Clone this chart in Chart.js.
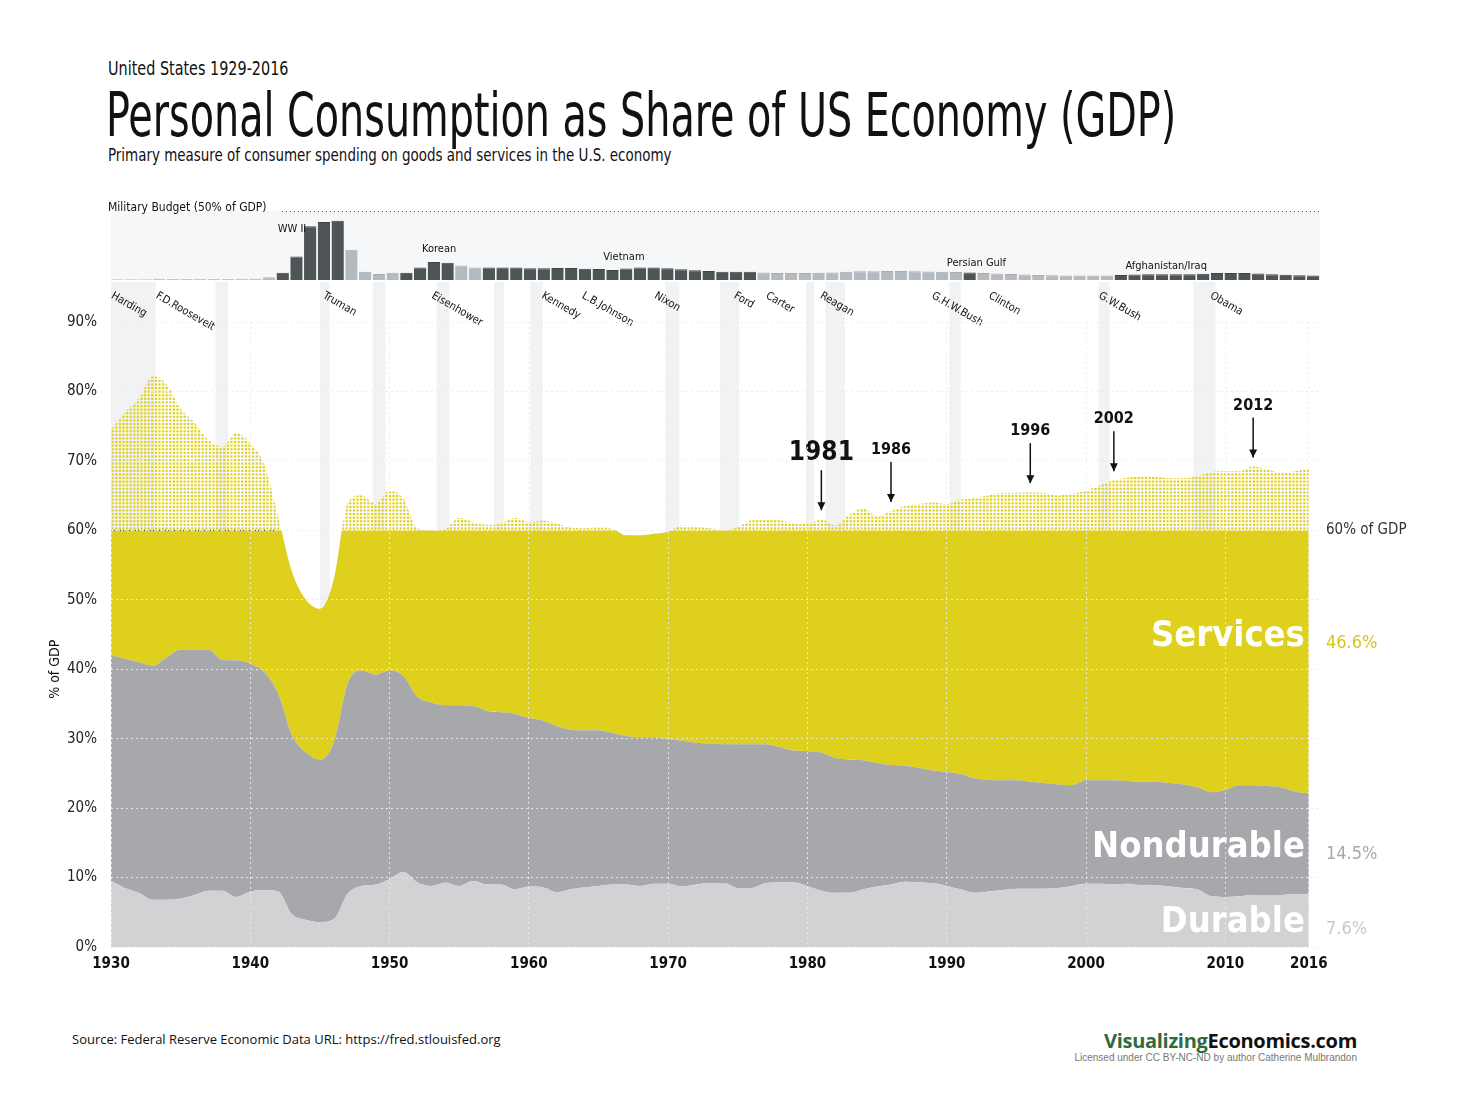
<!DOCTYPE html>
<html><head><meta charset="utf-8">
<script src="https://cdn.jsdelivr.net/npm/chart.js@4"></script>
<style>
body{margin:0;background:#fff;width:1470px;height:1099px;position:relative;overflow:hidden;font-family:'DejaVu Sans Condensed','Open Sans',sans-serif;}
.t{position:absolute;white-space:nowrap;color:#111;transform-origin:0 0;}
canvas{position:absolute;left:0;top:0;}
</style></head><body>
<div class="t" style="left:108px;top:56px;font-size:20px;transform:scaleX(0.8);">United States 1929-2016</div>
<div class="t" style="left:106px;top:80px;font-size:60px;transform:scaleX(0.735);">Personal Consumption as Share of US Economy (GDP)</div>
<div class="t" style="left:108px;top:144px;font-size:18px;transform:scaleX(0.83);">Primary measure of consumer spending on goods and services in the U.S. economy</div>
<div class="t" style="left:72px;top:1030px;font-size:13px;font-family:'Open Sans';">Source: Federal Reserve Economic Data URL: https://fred.stlouisfed.org</div>
<div class="t" style="right:113px;top:1027px;font-size:20px;font-weight:bold;font-family:'Open Sans';letter-spacing:-0.3px;"><span style="color:#2f6b3c">Visualizing</span>Economics.com</div>
<div class="t" style="right:113px;top:1052px;font-size:10px;color:#777;font-family:'Liberation Sans';">Licensed under CC BY-NC-ND by author Catherine Mulbrandon</div>
<canvas id="main" width="1470" height="1099"></canvas>
<canvas id="mil" width="1470" height="1099"></canvas>
<script>
const years = [];
for (let y = 1930; y <= 2016; y++) years.push(y);
const milYears = [];
for (let y = 1929; y <= 2016; y++) milYears.push(y);

const durable = [9.5,8.5,7.8,6.8,6.8,7,7.5,8.1,8.1,7.2,8,8.2,8,4.7,3.9,3.6,4,7.7,8.8,9,9.8,10.8,9.3,8.8,9.3,8.8,9.5,9,9,8.3,8.7,8.6,7.9,8.3,8.6,8.8,9,9,8.8,9.1,9.1,8.7,9,9.2,9.2,8.5,8.5,9.2,9.3,9.3,8.8,8.1,7.8,7.8,8.3,8.7,9,9.4,9.3,9.2,8.8,8.3,7.8,8,8.2,8.4,8.4,8.4,8.5,8.8,9.1,9.1,9,9.1,8.9,8.9,8.7,8.5,8.3,7.3,7.2,7.3,7.5,7.5,7.5,7.6,7.6];
const goodsTop = [42,41.5,41,40.5,41.7,42.8,42.8,42.8,41.3,41.3,40.8,39.6,36.5,30.5,28,27,29.5,38,39.8,39.2,39.8,39,36,35.2,34.8,34.8,34.7,34,33.8,33.6,33,32.6,31.8,31.3,31.2,31.2,30.8,30.4,30.2,30.2,29.9,29.7,29.4,29.3,29.2,29.2,29.2,29.2,28.8,28.3,28.2,28,27.2,27,26.9,26.5,26.2,26.1,25.8,25.4,25.2,24.9,24.3,24.1,24,24,23.8,23.6,23.4,23.3,24,24,24,23.9,23.8,23.8,23.6,23.4,23,22.3,22.6,23.3,23.3,23.2,23,22.4,22.1];
const totalTop = [74.5,77,79,82.2,81,77.5,75.5,73,72,74,72.5,69.5,62,54,50,48.7,53,64,65,63.8,65.8,64.5,60.3,60,60.2,61.8,61.2,60.8,61,61.8,61.2,61.4,61,60.4,60.3,60.4,60.2,59.3,59.3,59.5,59.8,60.7,60.5,60.3,60,60.5,61.5,61.6,61.5,61,60.9,61.6,60.7,62.2,63.2,62,62.8,63.5,63.8,64,63.8,64.4,64.7,65,65.4,65.4,65.5,65.4,65,65.3,65.7,66.5,67.2,67.6,67.8,67.7,67.5,67.5,67.8,68.4,68.5,68.5,69.2,68.8,68.3,68.5,68.8];
const military = [0.6,0.6,0.6,0.7,0.7,0.7,0.7,0.8,0.8,0.8,0.9,2,5.2,17,39,42,43,22,6,4.4,5.2,5.2,9,13,12.5,10.5,9,9,9,9,8.5,8.5,8.7,8.7,8.2,8,7.3,8.3,9,9,8.5,7.8,7,6.5,6,6,6,5.5,5,5,5,5.2,5.5,6,6.3,6.3,6.5,6.5,6.3,6.2,6,5.8,5.5,5,4.8,4.4,4,3.7,3.5,3.3,3.2,3.2,3.2,3.6,4,4.1,4.2,4.2,4.2,4.5,5,5,5,4.7,4.2,3.8,3.5,3.3];
const warYears = [[1941,1945],[1950,1953],[1956,1975],[1991,1991],[2002,2016]];
const warLabels = [['WW II',1941,229],['Korean',1951.5,249],['Vietnam',1964.7,257],['Persian Gulf',1989.7,263],['Afghanistan/Iraq',2002.7,266]];
const presidents = [['Harding',1930],['F.D.Roosevelt',1933.2],['Truman',1945.2],['Eisenhower',1953],['Kennedy',1960.9],['L.B.Johnson',1963.8],['Nixon',1969],['Ford',1974.7],['Carter',1977],['Reagan',1980.9],['G.H.W.Bush',1988.9],['Clinton',1993],['G.W.Bush',2000.9],['Obama',2008.9]];
const recessions = [[1930,1933.2],[1937.5,1938.4],[1945,1945.7],[1948.8,1949.7],[1953.4,1954.3],[1957.5,1958.2],[1960.1,1961],[1969.8,1970.8],[1973.7,1975.1],[1979.9,1980.4],[1981.3,1982.7],[1990.2,1991],[2000.9,2001.7],[2007.7,2009.3]];
const callouts = [['1981',1981,26],['1986',1986,16],['1996',1996,16],['2002',2002,16],['2012',2012,16]];
const yTicks = [0,10,20,30,40,50,60,70,80,90];
const xTicks = [1930,1940,1950,1960,1970,1980,1990,2000,2010,2016];

const YEL = '#dfd01e', NOND = '#a7a8ac', DUR = '#d1d2d4';
const COND = "'DejaVu Sans Condensed','Open Sans',sans-serif";

function servicesFill(ctx){
  const c = ctx.chart;
  if (!c.chartArea || !c.scales.y) return YEL;
  const y60 = c.scales.y.getPixelForValue(60);
  const off = document.createElement('canvas');
  off.width = c.width; off.height = c.height;
  const g = off.getContext('2d');
  g.fillStyle = YEL;
  g.fillRect(0, y60, off.width, off.height - y60);
  for (let y = y60 - 3; y > 0; y -= 3.6) for (let x = 0; x < off.width; x += 3.6) g.fillRect(x, y, 2.2, 2.2);
  return c.ctx.createPattern(off, 'no-repeat');
}

const decor = {
  id:'decor',
  beforeDatasetsDraw(c){
    const {ctx, chartArea:a, scales:{x,y}} = c;
    ctx.save();
    ctx.fillStyle = '#f1f2f4';
    recessions.forEach(([s,e])=>{const x0=x.getPixelForValue(s),x1=x.getPixelForValue(e);ctx.fillRect(x0,282,Math.max(x1-x0,8),a.bottom-282);});
    ctx.restore();
  },
  afterDatasetsDraw(c){
    const {ctx, chartArea:a, scales:{x,y}} = c;
    ctx.save();
    const y60 = y.getPixelForValue(60);
    ctx.strokeStyle='#333';ctx.setLineDash([1,2]);ctx.lineWidth=1;
    ctx.beginPath();ctx.moveTo(x.getPixelForValue(1930),y60);ctx.lineTo(x.getPixelForValue(1942),y60);ctx.stroke();
    ctx.setLineDash([]);
    ctx.fillStyle='#111';ctx.font='11px '+COND;ctx.textAlign='left';ctx.textBaseline='middle';
    presidents.forEach(([n,yr])=>{ctx.save();ctx.translate(x.getPixelForValue(yr)+1,295);ctx.rotate(Math.PI/6);ctx.fillText(n,0,0);ctx.restore();});
    callouts.forEach(([lab,yr,fs])=>{
      const px=x.getPixelForValue(yr), end=y.getPixelForValue(totalTop[years.indexOf(yr)])-9, st=end-40;
      ctx.strokeStyle='#111';ctx.lineWidth=1.5;ctx.beginPath();ctx.moveTo(px,st);ctx.lineTo(px,end);ctx.stroke();
      ctx.fillStyle='#111';ctx.beginPath();ctx.moveTo(px-4,end-8);ctx.lineTo(px+4,end-8);ctx.lineTo(px,end);ctx.closePath();ctx.fill();
      ctx.font='bold '+fs+'px '+COND;ctx.textAlign='center';ctx.textBaseline='bottom';ctx.fillText(lab,px,st-4);
    });
    const r=a.right, rt=x.getPixelForValue(2016)-4;
    const lab=(t,v,yy,col)=>{
      ctx.font='bold 36px '+COND;ctx.textAlign='right';ctx.textBaseline='middle';ctx.fillStyle='#fff';ctx.fillText(t,rt,yy);
      ctx.font='18px '+COND;ctx.textAlign='left';ctx.fillStyle=col;ctx.fillText(v,r+6,yy+6);
    };
    lab('Services','46.6%',637,'#d6c61c');
    lab('Nondurable','14.5%',848,'#a7a8ac');
    lab('Durable','7.6%',923,'#c6c7ca');
    ctx.font='15px '+COND;ctx.fillStyle='#333';ctx.textAlign='left';ctx.textBaseline='middle';ctx.fillText('60% of GDP',r+6,y60);
    ctx.save();ctx.translate(55,y.getPixelForValue(40));ctx.rotate(-Math.PI/2);ctx.textAlign='center';ctx.font='14px '+COND;ctx.fillStyle='#111';ctx.fillText('% of GDP',0,0);ctx.restore();
    ctx.restore();
  },
  afterDraw(c){ c.ctx.clearRect(0,0,c.width,6); }
};

const pts = arr => arr.map((v,i)=>({x:years[i],y:v}));
new Chart(document.getElementById('main'),{
  type:'line',
  data:{datasets:[
    {data:pts(durable),backgroundColor:DUR,fill:'origin',borderWidth:0,pointRadius:0,cubicInterpolationMode:'monotone'},
    {data:pts(goodsTop),backgroundColor:NOND,fill:'-1',borderWidth:0,pointRadius:0,cubicInterpolationMode:'monotone'},
    {data:pts(totalTop),backgroundColor:servicesFill,fill:'-1',borderWidth:0,pointRadius:0,cubicInterpolationMode:'monotone'}
  ]},
  options:{
    responsive:false,animation:false,devicePixelRatio:1,
    layout:{padding:{left:0,right:150,top:322,bottom:122}},
    plugins:{legend:{display:false},tooltip:{enabled:false}},
    scales:{
      x:{type:'linear',min:1930,max:2016.8,
        afterBuildTicks:s=>{s.ticks=xTicks.map(v=>({value:v}));},
        afterFit:s=>{s.height=30;},
        grid:{color:'rgba(235,235,235,0.9)',drawTicks:false,z:1},
        border:{display:true,color:'#111',width:1.5,dash:[2,3]},
        ticks:{color:'#111',font:{size:15,weight:'bold',family:COND},padding:8,callback:v=>String(v),maxRotation:0,autoSkip:false}},
      y:{min:0,max:90,
        afterBuildTicks:s=>{s.ticks=yTicks.map(v=>({value:v}));},
        afterFit:s=>{s.width=111;},
        grid:{color:'rgba(235,235,235,0.9)',drawTicks:false,z:1},
        border:{display:false,dash:[2,3]},
        ticks:{color:'#222',font:{size:15,family:COND},padding:14,callback:v=>v+'%'}}
    }
  },
  plugins:[decor]
});

const milBg = {
  id:'milBg',
  beforeDraw(c){
    const {ctx, chartArea:a} = c;
    ctx.save();
    ctx.fillStyle='#f6f7f9';ctx.fillRect(a.left,a.top,a.right-a.left,a.bottom-a.top);
    ctx.strokeStyle='#555';ctx.setLineDash([1,3]);ctx.beginPath();ctx.moveTo(282,a.top+0.5);ctx.lineTo(a.right,a.top+0.5);ctx.stroke();
    ctx.setLineDash([]);
    ctx.fillStyle='#111';ctx.font='12px '+COND;ctx.textBaseline='middle';ctx.textAlign='left';
    ctx.fillText('Military Budget (50% of GDP)',108,a.top-3);
    ctx.restore();
  },
  afterDatasetsDraw(c){
    const {ctx, scales:{x}} = c;
    ctx.save();ctx.fillStyle='#111';ctx.font='11px '+COND;ctx.textBaseline='middle';ctx.textAlign='left';
    warLabels.forEach(([t,yr,py])=>{ctx.fillText(t,x.getPixelForValue(yr-1929)-5,py);});
    ctx.restore();
  },
  afterDraw(c){ c.ctx.clearRect(0,0,c.width,6); }
};
const isWar = yr => warYears.some(([s,e])=>yr>=s&&yr<=e);
new Chart(document.getElementById('mil'),{
  type:'bar',
  data:{labels:milYears,datasets:[{data:military,backgroundColor:milYears.map(y=>isWar(y)?'#4f5556':'#b5babf'),borderColor:milYears.map(y=>isWar(y)?'#3e4344':'#a8adb2'),borderWidth:{top:1,left:0,right:0,bottom:0},barPercentage:0.9,categoryPercentage:1}]},
  options:{
    responsive:false,animation:false,devicePixelRatio:1,
    layout:{padding:{left:111,right:150,top:211,bottom:819}},
    plugins:{legend:{display:false},tooltip:{enabled:false}},
    scales:{x:{display:false},y:{display:false,min:0,max:50}}
  },
  plugins:[milBg]
});
</script>
</body></html>
